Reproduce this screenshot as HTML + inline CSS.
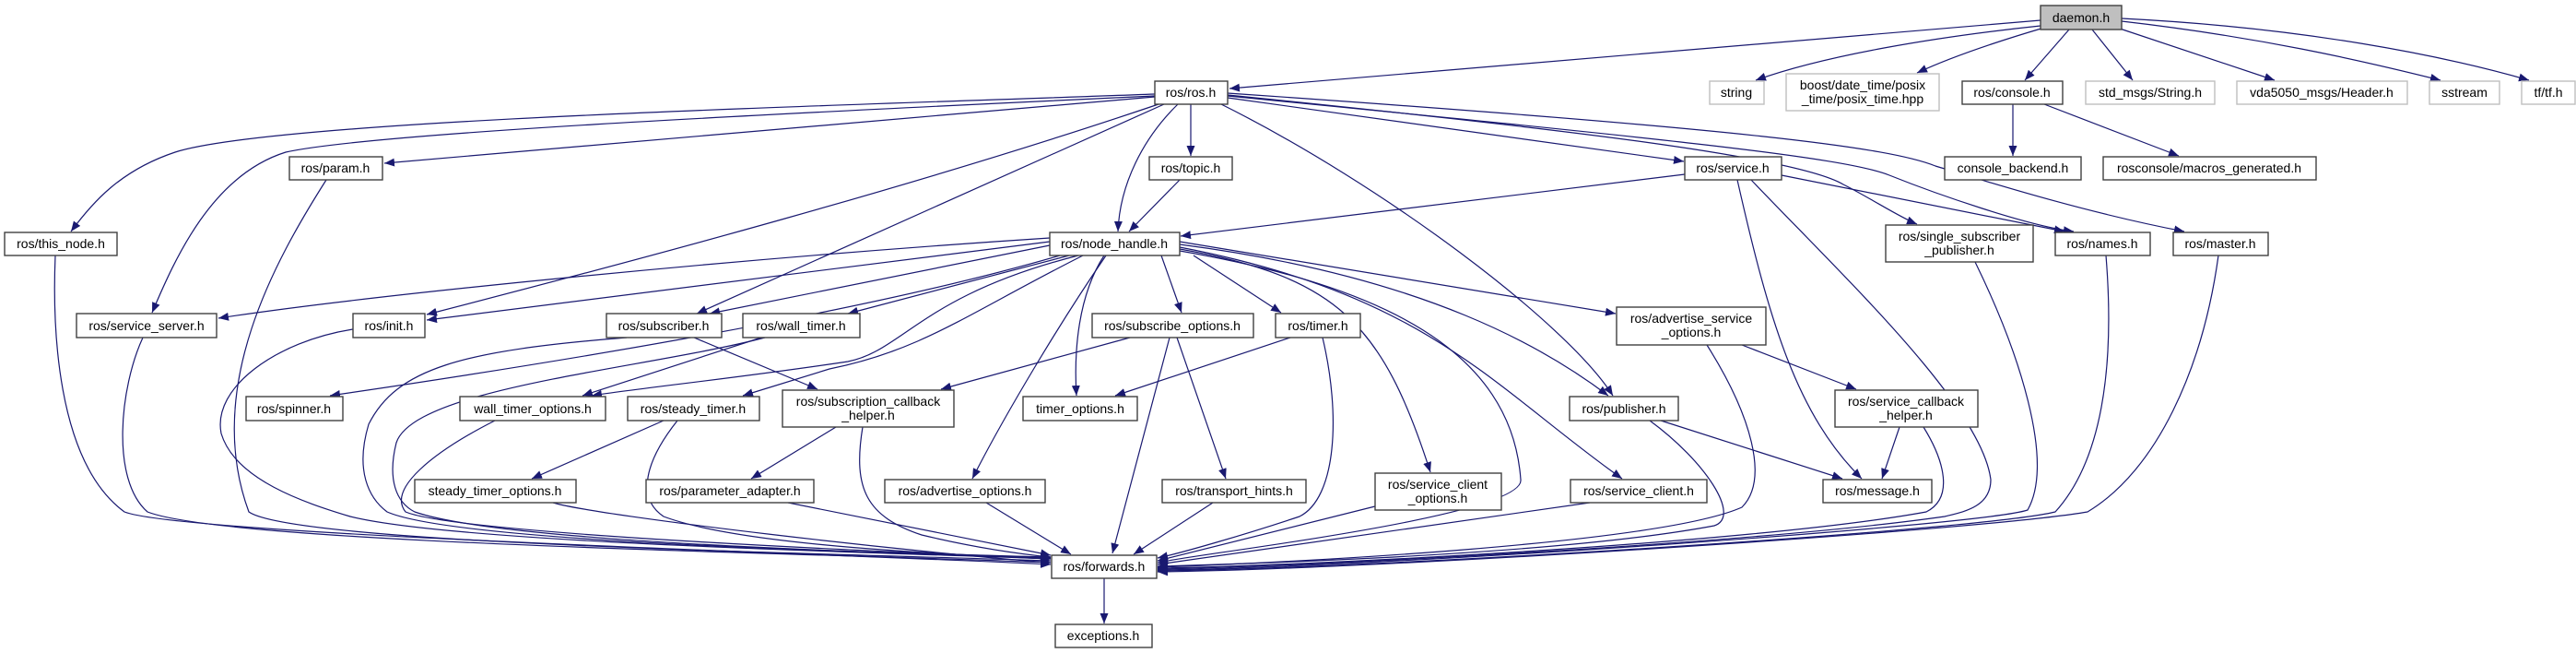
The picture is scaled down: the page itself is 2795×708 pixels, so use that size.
<!DOCTYPE html>
<html><head><meta charset="utf-8"><style>
html,body{margin:0;padding:0;background:#fff;}
svg{display:block;}
text{font-family:"Liberation Sans","DejaVu Sans",sans-serif;font-size:14px;fill:#000;text-anchor:middle;}
.b{fill:#fff;stroke:#404040;stroke-width:1.4;}
.g{fill:#fff;stroke:#bfbfbf;stroke-width:1.4;}
.e{fill:none;stroke:#191970;stroke-width:1.2;marker-end:url(#a);}
</style></head><body>
<svg width="2795" height="708" viewBox="0 0 2795 708" xmlns="http://www.w3.org/2000/svg">
<defs><marker id="a" markerUnits="userSpaceOnUse" markerWidth="12" markerHeight="9" refX="11" refY="4.5" orient="auto"><path d="M0,0 L11,4.5 L0,9 z" fill="#191970"/></marker></defs>

<!-- edges -->
<path class="e" d="M2214,22 L1334,96"/>
<path class="e" d="M2214,28 C2100,40 1980,60 1905,87"/>
<path class="e" d="M2218,30 C2150,50 2110,65 2080,79"/>
<path class="e" d="M2245,32 L2197,87"/>
<path class="e" d="M2270,32 L2314,87"/>
<path class="e" d="M2300,31 L2468,87"/>
<path class="e" d="M2302,23 C2450,40 2560,65 2648,87"/>
<path class="e" d="M2302,20 C2500,30 2650,60 2744,87"/>
<path class="e" d="M2184,113 L2184,169"/>
<path class="e" d="M2218,113 L2364,169"/>

<path class="e" d="M1253,102 C900,115 300,130 190,165 C130,185 100,220 77,251"/>
<path class="e" d="M1253,104 C800,125 400,145 310,165 C230,190 190,280 165,339"/>
<path class="e" d="M1253,105 L417,177"/>
<path class="e" d="M1257,113 C1000,200 700,280 463,341"/>
<path class="e" d="M1263,113 L756,340"/>
<path class="e" d="M1278,113 C1240,150 1215,200 1213,251"/>
<path class="e" d="M1292,113 L1292,169"/>
<path class="e" d="M1280,195 L1225,251"/>
<path class="e" d="M1332,106 L1827,175"/>
<path class="e" d="M1325,113 C1500,200 1700,350 1750,429"/>
<path class="e" d="M1332,103 C1700,140 1950,170 2000,200 C2030,215 2060,235 2080,243"/>
<path class="e" d="M1332,104 C1800,150 2000,170 2050,190 C2100,210 2200,245 2250,251"/>
<path class="e" d="M1332,101 C1900,140 2050,160 2100,180 C2150,195 2260,230 2370,251"/>

<path class="e" d="M1139,258 C800,280 400,320 237,345"/>
<path class="e" d="M1139,262 L463,347"/>
<path class="e" d="M1139,266 L770,340"/>
<path class="e" d="M1160,277 L920,340"/>
<path class="e" d="M1150,277 Q900,350 358,429"/>
<path class="e" d="M1170,277 C1000,320 980,380 920,392 C800,410 700,420 642,429"/>
<path class="e" d="M826,366 L632,429"/>
<path class="e" d="M1175,277 C1050,340 1000,380 900,400 L806,429"/>
<path class="e" d="M1260,277 L1282,339"/>
<path class="e" d="M1295,277 L1390,339"/>
<path class="e" d="M1198,277 C1170,320 1165,380 1168,429"/>
<path class="e" d="M1200,277 C1150,350 1090,450 1055,519"/>
<path class="e" d="M1280,270 C1450,300 1500,350 1552,512"/>
<path class="e" d="M1280,272 C1500,310 1640,380 1650,520 C1655,560 1300,600 1256,610"/>
<path class="e" d="M1280,265 C1550,300 1680,380 1745,429"/>
<path class="e" d="M1280,268 C1550,320 1620,420 1760,519"/>
<path class="e" d="M1280,262 L1753,340"/>
<path class="e" d="M753,366 L887,422"/>
<path class="e" d="M1226,366 L1021,422"/>

<path class="e" d="M60,277 C57,350 60,500 135,555 C200,580 900,600 1140,612"/>
<path class="e" d="M155,366 C130,420 120,520 160,555 C250,590 900,600 1140,610"/>
<path class="e" d="M354,195 C300,280 220,420 270,555 C320,590 900,600 1140,608"/>
<path class="e" d="M383,357 C300,370 230,420 240,470 C255,520 330,545 380,560 C500,590 1000,600 1140,606"/>
<path class="e" d="M680,366 C500,380 430,400 400,460 C385,510 400,540 420,555 C500,590 1000,600 1140,604"/>
<path class="e" d="M830,366 C700,400 450,420 430,480 C420,520 430,545 450,555 C550,590 1000,600 1140,605"/>
<path class="e" d="M1269,366 L1207,600"/>
<path class="e" d="M1277,366 L1330,519"/>
<path class="e" d="M1400,366 L1210,429"/>
<path class="e" d="M1435,366 C1455,450 1450,540 1410,560 C1350,580 1280,600 1256,605"/>
<path class="e" d="M720,456 L577,519"/>
<path class="e" d="M735,456 C700,500 690,540 720,560 C800,590 1000,600 1140,606"/>
<path class="e" d="M537,456 C470,490 420,530 440,555 C500,580 1000,600 1140,605"/>
<path class="e" d="M600,545 C650,560 1000,600 1140,610"/>
<path class="e" d="M907,463 L815,519"/>
<path class="e" d="M936,463 C925,530 940,560 1000,580 C1050,592 1100,600 1140,604"/>
<path class="e" d="M855,545 L1140,602"/>
<path class="e" d="M1070,545 L1162,601"/>
<path class="e" d="M1316,545 L1230,601"/>
<path class="e" d="M1492,549 L1256,608"/>
<path class="e" d="M1725,545 L1256,612"/>
<path class="e" d="M1802,456 L1999,519"/>
<path class="e" d="M1790,456 C1850,500 1890,560 1860,570 C1700,600 1400,610 1256,614"/>
<path class="e" d="M1890,374 L2014,422"/>
<path class="e" d="M1852,374 C1900,450 1920,520 1890,550 C1800,590 1400,610 1256,615"/>
<path class="e" d="M2061,463 L2042,519"/>
<path class="e" d="M2087,463 C2110,500 2120,540 2090,555 C1900,590 1400,614 1256,616"/>
<path class="e" d="M1933,190 L2240,251"/>
<path class="e" d="M1885,195 C1920,350 1950,450 2020,519"/>
<path class="e" d="M1828,189 L1281,256"/>
<path class="e" d="M1900,195 C2000,300 2150,440 2160,520 C2160,550 2130,555 2110,560 C1900,590 1400,615 1256,617"/>
<path class="e" d="M2143,284 C2190,380 2230,500 2200,553 C2150,570 1500,615 1256,618"/>
<path class="e" d="M2285,277 C2295,400 2280,500 2230,555 C2150,575 1500,616 1256,619"/>
<path class="e" d="M2407,277 C2390,400 2340,510 2265,555 C2150,575 1500,617 1256,620"/>
<path class="e" d="M1198,627 L1198,676"/>

<!-- nodes -->
<rect x="2214" y="6" width="88" height="26" fill="#bfbfbf" stroke="#404040" stroke-width="1.4"/><text x="2258" y="24">daemon.h</text>
<rect class="b" x="1253" y="88" width="79" height="25"/><text x="1292" y="105">ros/ros.h</text>
<rect class="g" x="1855" y="88" width="59" height="25"/><text x="1884" y="105">string</text>
<rect class="g" x="1938" y="80" width="166" height="40"/><text x="2021" y="97">boost/date_time/posix</text><text x="2021" y="112">_time/posix_time.hpp</text>
<rect class="b" x="2129" y="88" width="109" height="25"/><text x="2183" y="105">ros/console.h</text>
<rect class="g" x="2263" y="88" width="140" height="25"/><text x="2333" y="105">std_msgs/String.h</text>
<rect class="g" x="2427" y="88" width="185" height="25"/><text x="2519" y="105">vda5050_msgs/Header.h</text>
<rect class="g" x="2636" y="88" width="76" height="25"/><text x="2674" y="105">sstream</text>
<rect class="g" x="2736" y="88" width="58" height="25"/><text x="2765" y="105">tf/tf.h</text>
<rect class="b" x="2110" y="170" width="148" height="25"/><text x="2184" y="187">console_backend.h</text>
<rect class="b" x="2282" y="170" width="231" height="25"/><text x="2397" y="187">rosconsole/macros_generated.h</text>
<rect class="b" x="314" y="170" width="101" height="25"/><text x="364" y="187">ros/param.h</text>
<rect class="b" x="1247" y="170" width="90" height="25"/><text x="1292" y="187">ros/topic.h</text>
<rect class="b" x="1828" y="170" width="105" height="25"/><text x="1880" y="187">ros/service.h</text>
<rect class="b" x="5" y="252" width="122" height="25"/><text x="66" y="269">ros/this_node.h</text>
<rect class="b" x="1139" y="252" width="141" height="25"/><text x="1209" y="269">ros/node_handle.h</text>
<rect class="b" x="2046" y="244" width="160" height="40"/><text x="2126" y="261">ros/single_subscriber</text><text x="2126" y="276">_publisher.h</text>
<rect class="b" x="2230" y="252" width="103" height="25"/><text x="2281" y="269">ros/names.h</text>
<rect class="b" x="2358" y="252" width="103" height="25"/><text x="2409" y="269">ros/master.h</text>
<rect class="b" x="83" y="340" width="152" height="26"/><text x="159" y="358">ros/service_server.h</text>
<rect class="b" x="383" y="340" width="78" height="26"/><text x="422" y="358">ros/init.h</text>
<rect class="b" x="658" y="340" width="125" height="26"/><text x="720" y="358">ros/subscriber.h</text>
<rect class="b" x="806" y="340" width="127" height="26"/><text x="869" y="358">ros/wall_timer.h</text>
<rect class="b" x="1185" y="340" width="175" height="26"/><text x="1272" y="358">ros/subscribe_options.h</text>
<rect class="b" x="1384" y="340" width="92" height="26"/><text x="1430" y="358">ros/timer.h</text>
<rect class="b" x="1754" y="333" width="162" height="41"/><text x="1835" y="350">ros/advertise_service</text><text x="1835" y="365">_options.h</text>
<rect class="b" x="267" y="430" width="105" height="26"/><text x="319" y="448">ros/spinner.h</text>
<rect class="b" x="499" y="430" width="158" height="26"/><text x="578" y="448">wall_timer_options.h</text>
<rect class="b" x="681" y="430" width="143" height="26"/><text x="752" y="448">ros/steady_timer.h</text>
<rect class="b" x="849" y="423" width="186" height="40"/><text x="942" y="440">ros/subscription_callback</text><text x="942" y="455">_helper.h</text>
<rect class="b" x="1110" y="430" width="124" height="26"/><text x="1172" y="448">timer_options.h</text>
<rect class="b" x="1703" y="430" width="118" height="26"/><text x="1762" y="448">ros/publisher.h</text>
<rect class="b" x="1991" y="423" width="155" height="40"/><text x="2068" y="440">ros/service_callback</text><text x="2068" y="455">_helper.h</text>
<rect class="b" x="450" y="520" width="175" height="25"/><text x="537" y="537">steady_timer_options.h</text>
<rect class="b" x="701" y="520" width="182" height="25"/><text x="792" y="537">ros/parameter_adapter.h</text>
<rect class="b" x="960" y="520" width="174" height="25"/><text x="1047" y="537">ros/advertise_options.h</text>
<rect class="b" x="1261" y="520" width="156" height="25"/><text x="1339" y="537">ros/transport_hints.h</text>
<rect class="b" x="1492" y="513" width="137" height="40"/><text x="1560" y="530">ros/service_client</text><text x="1560" y="545">_options.h</text>
<rect class="b" x="1704" y="520" width="148" height="25"/><text x="1778" y="537">ros/service_client.h</text>
<rect class="b" x="1978" y="520" width="118" height="25"/><text x="2037" y="537">ros/message.h</text>
<rect class="b" x="1141" y="602" width="114" height="25"/><text x="1198" y="619">ros/forwards.h</text>
<rect class="b" x="1145" y="677" width="105" height="25"/><text x="1197" y="694">exceptions.h</text>
</svg>
</body></html>
